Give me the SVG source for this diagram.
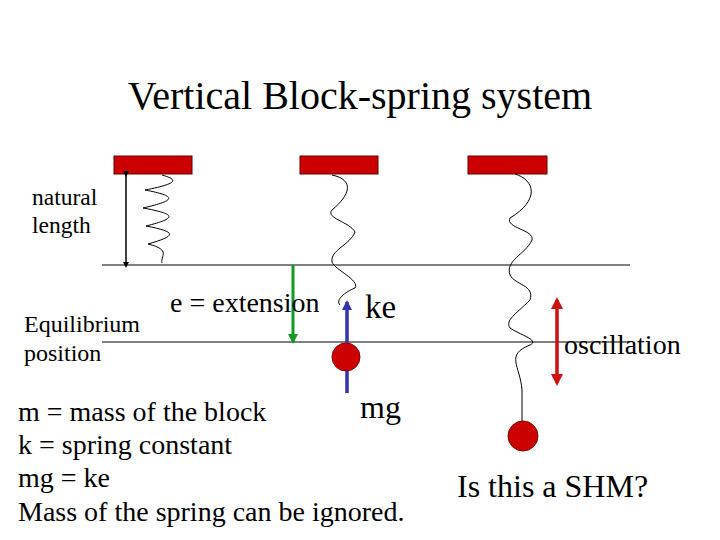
<svg xmlns="http://www.w3.org/2000/svg" width="720" height="540" viewBox="0 0 720 540" font-family="'Liberation Serif', 'Times New Roman', 'DejaVu Serif', serif">
<defs>
<marker id="ab" markerWidth="6" markerHeight="6" refX="3" refY="3" orient="auto" markerUnits="userSpaceOnUse"><path d="M0,0L6,3L0,6Z" fill="#000"/></marker>
<marker id="ag" markerWidth="10" markerHeight="10" refX="8" refY="5" orient="auto" markerUnits="userSpaceOnUse"><path d="M0,0L10,5L0,10Z" fill="#119922"/></marker>
<marker id="au" markerWidth="10" markerHeight="10" refX="8" refY="5" orient="auto" markerUnits="userSpaceOnUse"><path d="M0,0L10,5L0,10Z" fill="#3333aa"/></marker>
<marker id="ar" markerWidth="12" markerHeight="12" refX="9" refY="6" orient="auto-start-reverse" markerUnits="userSpaceOnUse"><path d="M0,0L12,6L0,12Z" fill="#cc1111"/></marker>
</defs>
<style>
.blk{fill:#cc0000;stroke:#660000;stroke-width:1}
.ball{fill:#cc0000;stroke:#880000;stroke-width:1}
.spr{fill:none;stroke:#000;stroke-width:1}
</style>
<rect width="720" height="540" fill="#fff"/>
<text x="360" y="109" font-size="40" text-anchor="middle">Vertical Block-spring system</text>
<g id="lines">
<line x1="102" y1="265" x2="630" y2="265" stroke="#000"/>
<line x1="102" y1="342" x2="630" y2="342" stroke="#000"/>
</g>
<g id="block1"><rect class="blk" x="114" y="156" width="78" height="18"/></g>
<g id="block2"><rect class="blk" x="300" y="156" width="78" height="18"/></g>
<g id="block3"><rect class="blk" x="468" y="156" width="79" height="18"/></g>
<g id="springs">
<path class="spr" d="M162,175 C180,180 176,184 145,190 C176,196 178,200 143,208 C176,214 178,218 146,226 C178,232 176,236 148,244 C172,250 160,256 162,263"/>
<path class="spr" d="M332,175 C355,180 350,195 332,210 C325,218 350,222 355,232 C350,245 330,250 332,262 C335,270 360,280 355,288 C345,292 335,300 340,305"/>
<path class="spr" d="M515,174 C535,180 540,200 510,218 C505,228 535,230 532,240 C525,255 505,260 510,275 C515,285 535,285 530,300 C515,315 505,320 510,328 C520,335 540,340 530,345 C505,355 520,365 522,390 L522,422"/>
</g>
<g id="balls">
<circle class="ball" cx="346" cy="357" r="14"/>
<circle class="ball" cx="523" cy="436" r="15"/>
</g>
<g id="connectors">
<line x1="126" y1="174" x2="126" y2="265" stroke="#000" stroke-width="1.5" marker-start="url(#ab)" marker-end="url(#ab)"/>
<line x1="293" y1="265" x2="293" y2="342" stroke="#119922" stroke-width="3" marker-end="url(#ag)"/>
<line x1="347" y1="343" x2="347" y2="302" stroke="#3333aa" stroke-width="3.5" marker-end="url(#au)"/>
<line x1="347" y1="371" x2="347" y2="393" stroke="#3333aa" stroke-width="3.5"/>
<line x1="557" y1="300" x2="557" y2="383" stroke="#cc1111" stroke-width="3.5" marker-start="url(#ar)" marker-end="url(#ar)"/>
</g>
<g id="labels" font-size="28" fill="#000">
<text x="32" y="205" font-size="23.5">natural</text>
<text x="32" y="233" font-size="23.5">length</text>
<text x="24" y="332" font-size="24">Equilibrium</text>
<text x="24" y="361" font-size="24">position</text>
<text x="170" y="312">e = extension</text>
<text x="365" y="318" font-size="33">ke</text>
<text x="564" y="354">oscillation</text>
<text x="360" y="418" font-size="32">mg</text>
<text x="18" y="421">m = mass of the block</text>
<text x="18" y="454">k = spring constant</text>
<text x="18" y="487">mg = ke</text>
<text x="18" y="521">Mass of the spring can be ignored.</text>
<text x="457" y="497" font-size="32">Is this a SHM?</text>
</g>
</svg>
